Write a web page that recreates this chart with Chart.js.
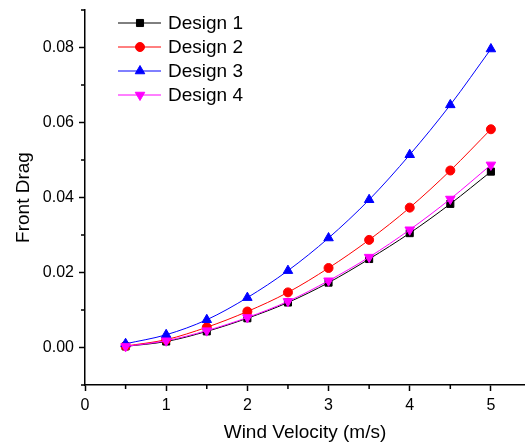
<!DOCTYPE html>
<html>
<head>
<meta charset="utf-8">
<script src="https://cdn.jsdelivr.net/npm/chart.js@4"></script>
<style>
  body { margin: 0; background: #fff; }
  canvas { display: block; }
</style>
</head>
<body>
<canvas id="dragChart" width="525" height="444"></canvas>
<script>
const velocity = [0.5, 1, 1.5, 2, 2.5, 3, 3.5, 4, 4.5, 5];
const design1 = [0.0003, 0.0016, 0.0043, 0.0078, 0.0120, 0.0173, 0.0236, 0.0305, 0.0383, 0.0469];
const design2 = [0.0004, 0.0021, 0.0054, 0.0096, 0.0147, 0.0212, 0.0287, 0.0373, 0.0472, 0.0582];
const design3 = [0.0010, 0.0034, 0.0074, 0.0133, 0.0205, 0.0292, 0.0394, 0.0514, 0.0647, 0.0796];
const design4 = [0.0003, 0.0018, 0.0045, 0.0080, 0.0123, 0.0178, 0.0241, 0.0314, 0.0396, 0.0487];
const seriesNames = ['Design 1', 'Design 2', 'Design 3', 'Design 4'];

const FONT = 'Liberation Sans, Arial, sans-serif';
Chart.defaults.font.family = FONT;
Chart.defaults.color = '#000';

function toPoints(values) {
    return values.map((v, i) => ({x: velocity[i], y: v}));
}

function makeSet(label, values, color, style, radius, rotation, order) {
    return {
        label: label,
        data: toPoints(values),
        borderColor: color,
        backgroundColor: color,
        borderWidth: 1,
        pointStyle: style,
        pointRadius: radius,
        pointRotation: rotation,
        pointBorderWidth: 1,
        pointBorderColor: color,
        pointBackgroundColor: color,
        cubicInterpolationMode: 'monotone',
        order: order
    };
}

const isMajorX = v => Math.abs(v - Math.round(v)) < 1e-6;
const isMajorY = v => {
    const k = Math.round(v * 100);
    return k % 2 === 0 && k >= 0 && k <= 8;
};

// no extra room for edge labels: the plot area is set by layout padding
function noEdgePadding(s) {
    s.paddingTop = 0;
    s.paddingBottom = 0;
    s.paddingLeft = 0;
    s.paddingRight = 0;
}

// minor tick marks (shorter than the major ones) + legend with line and marker
const extrasPlugin = {
    id: 'extras',
    afterDraw(chart) {
        const ctx = chart.ctx;
        const xs = chart.scales.x, ys = chart.scales.y;
        const area = chart.chartArea;
        ctx.save();
        ctx.strokeStyle = '#000';
        ctx.lineWidth = 1.5;
        ctx.beginPath();
        xs.ticks.forEach(t => {
            if (!isMajorX(t.value)) {
                const px = xs.getPixelForValue(t.value);
                ctx.moveTo(px, area.bottom);
                ctx.lineTo(px, area.bottom + 4);
            }
        });
        ys.ticks.forEach(t => {
            if (!isMajorY(t.value)) {
                const py = ys.getPixelForValue(t.value);
                ctx.moveTo(area.left, py);
                ctx.lineTo(area.left - 4, py);
            }
        });
        ctx.stroke();

        // legend
        const x0 = area.left + 33;
        const y0 = area.top + 13;
        ctx.font = '19px ' + FONT;
        ctx.textBaseline = 'middle';
        ctx.textAlign = 'left';
        chart.data.datasets.forEach((ds, i) => {
            const y = y0 + i * 24;
            ctx.strokeStyle = ds.borderColor;
            ctx.lineWidth = 1;
            ctx.beginPath();
            ctx.moveTo(x0, y);
            ctx.lineTo(x0 + 43, y);
            ctx.stroke();
            ctx.fillStyle = ds.borderColor;
            Chart.helpers.drawPoint(ctx, {
                pointStyle: ds.pointStyle,
                radius: ds.pointRadius,
                rotation: ds.pointRotation,
                borderWidth: 1
            }, x0 + 22, y);
            ctx.fillStyle = '#000';
            ctx.fillText(ds.label, x0 + 50, y + 1);
        });
        ctx.restore();
    }
};

const data = {
    datasets: [
        makeSet(seriesNames[0], design1, '#000000', 'rect', 5, 0, 4),
        makeSet(seriesNames[1], design2, '#ff0000', 'circle', 4.5, 0, 3),
        makeSet(seriesNames[2], design3, '#0000ff', 'triangle', 5.5, 0, 2),
        makeSet(seriesNames[3], design4, '#ff00ff', 'triangle', 5.5, 180, 1)
    ]
};

const config = {
    type: 'line',
    data,
    options: {
        responsive: false,
        animation: false,
        layout: {autoPadding: false, padding: {top: 10, right: 0, left: 0, bottom: 0}},
        plugins: {
            legend: {display: false},
            tooltip: {enabled: false}
        },
        scales: {
            x: {
                type: 'linear',
                min: 0,
                max: 5.42,
                afterFit: s => { s.height = 59; noEdgePadding(s); },
                border: {display: true, color: '#000', width: 1.5},
                grid: {
                    display: true,
                    drawOnChartArea: false,
                    drawTicks: true,
                    tickLength: 6,
                    tickWidth: 1.5,
                    tickColor: c => (c.tick && isMajorX(c.tick.value)) ? '#000' : 'rgba(0,0,0,0)'
                },
                ticks: {
                    stepSize: 0.5,
                    includeBounds: false,
                    autoSkip: false,
                    maxRotation: 0,
                    padding: 5,
                    font: {size: 16},
                    callback: v => isMajorX(v) ? String(Math.round(v)) : ''
                },
                title: {
                    display: true,
                    text: 'Wind Velocity (m/s)',
                    font: {size: 19},
                    padding: {top: 3, bottom: 0}
                }
            },
            y: {
                type: 'linear',
                min: -0.01,
                max: 0.09,
                afterFit: s => { s.width = 85; noEdgePadding(s); },
                border: {display: true, color: '#000', width: 1.5},
                grid: {
                    display: true,
                    drawOnChartArea: false,
                    drawTicks: true,
                    tickLength: 6,
                    tickWidth: 1.5,
                    tickColor: c => (c.tick && isMajorY(c.tick.value)) ? '#000' : 'rgba(0,0,0,0)'
                },
                ticks: {
                    stepSize: 0.01,
                    autoSkip: false,
                    padding: 5,
                    font: {size: 16},
                    callback: v => isMajorY(v) ? (Math.round(v * 100) / 100).toFixed(2) : ''
                },
                title: {
                    display: true,
                    text: 'Front Drag',
                    font: {size: 19},
                    padding: {top: 12, bottom: 0}
                }
            }
        }
    },
    plugins: [extrasPlugin]
};

const dragChart = new Chart(document.getElementById('dragChart'), config);
</script>
</body>
</html>
